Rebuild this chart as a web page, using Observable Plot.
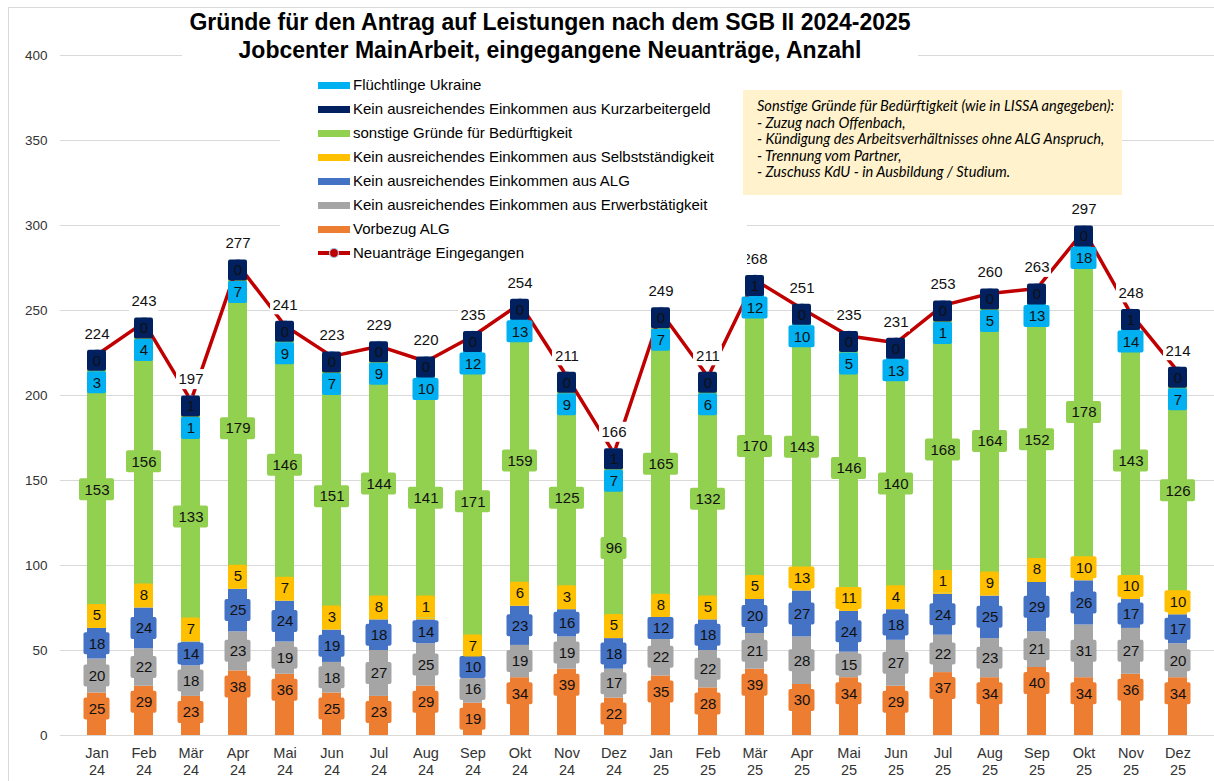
<!DOCTYPE html>
<html>
<head>
<meta charset="utf-8">
<script src="https://cdn.jsdelivr.net/npm/d3@7"></script>
<script src="https://cdn.jsdelivr.net/npm/@observablehq/plot@0.6"></script>
<style>
  html, body { margin: 0; padding: 0; background: #fff; }
  body { font-family: "Liberation Sans", Arial, sans-serif; }
  #wrap { position: relative; width: 1214px; height: 781px; overflow: hidden; background: #fff; }
  #frame { position: absolute; left: 8px; top: 7px; width: 1220px; height: 800px; border: 1px solid #d9d9d9; box-sizing: border-box; pointer-events: none; }
  #chart { position: absolute; left: 0; top: 0; }
  #title { position: absolute; left: 182px; top: 8px; width: 736px; height: 58px; background: #fff; text-align: center;
           font-weight: bold; font-size: 23px; line-height: 28px; color: #000; }
  #legend { position: absolute; left: 280px; top: 70px; width: 467px; height: 195px; background: #fff; }
  .lrow { position: absolute; left: 0; height: 24px; width: 467px; }
  .lsw { position: absolute; left: 38px; top: 9px; width: 32px; height: 7px; }
  .ltx { position: absolute; left: 73px; top: 0; line-height: 24px; font-size: 15px; color: #000; white-space: nowrap; }
  #note { position: absolute; left: 743px; top: 90px; width: 379px; height: 105px; background: #FFF2CC; box-sizing: border-box;
          padding: 8px 0 0 14px; font-family: Lato, "Liberation Sans", sans-serif; font-style: italic; font-size: 14.6px; line-height: 16.6px; color: #000; white-space: nowrap; }
</style>
</head>
<body>
<div id="wrap">
  <div id="chart"></div>
  <div id="title"></div>
  <div id="legend"></div>
  <div id="note"></div>
  <div id="frame"></div>
</div>
<script>
// ---------- Data ----------
const monthNames = ["Jan", "Feb", "Mär", "Apr", "Mai", "Jun", "Jul", "Aug", "Sep", "Okt", "Nov", "Dez"];
const yearLabels = ["24", "25"];
const categories = yearLabels.flatMap(y => monthNames.map(m => m + " " + y));

const seriesNames = [
  "Vorbezug ALG",
  "Kein ausreichendes Einkommen aus Erwerbstätigkeit",
  "Kein ausreichendes Einkommen aus ALG",
  "Kein ausreichendes Einkommen aus Selbstständigkeit",
  "sonstige Gründe für Bedürftigkeit",
  "Flüchtlinge Ukraine",
  "Kein ausreichendes Einkommen aus Kurzarbeitergeld"
];
const lineName = "Neuanträge Eingegangen";

const vorbezugALG        = [25, 29, 23, 38, 36, 25, 23, 29, 19, 34, 39, 22, 35, 28, 39, 30, 34, 29, 37, 34, 40, 34, 36, 34];
const erwerbstaetigkeit  = [20, 22, 18, 23, 19, 18, 27, 25, 16, 19, 19, 17, 22, 22, 21, 28, 15, 27, 22, 23, 21, 31, 27, 20];
const alg                = [18, 24, 14, 25, 24, 19, 18, 14, 10, 23, 16, 18, 12, 18, 20, 27, 24, 18, 24, 25, 29, 26, 17, 17];
const selbststaendigkeit = [5, 8, 7, 5, 7, 3, 8, 1, 7, 6, 3, 5, 8, 5, 5, 13, 11, 4, 1, 9, 8, 10, 10, 10];
const sonstigeGruende    = [153, 156, 133, 179, 146, 151, 144, 141, 171, 159, 125, 96, 165, 132, 170, 143, 146, 140, 168, 164, 152, 178, 143, 126];
const fluechtlingeUkraine = [3, 4, 1, 7, 9, 7, 9, 10, 12, 13, 9, 7, 7, 6, 12, 10, 5, 13, 1, 5, 13, 18, 14, 7];
const kurzarbeitergeld   = [0, 0, 1, 0, 0, 0, 0, 0, 0, 0, 0, 1, 0, 0, 1, 0, 0, 0, 0, 0, 0, 0, 1, 0];
const neuantraege        = [224, 243, 197, 277, 241, 223, 229, 220, 235, 254, 211, 166, 249, 211, 268, 251, 235, 231, 253, 260, 263, 297, 248, 214];

const yTicks = [0, 50, 100, 150, 200, 250, 300, 350, 400];

const titleLines = [
  "Gründe für den Antrag auf Leistungen nach dem SGB II 2024-2025",
  "Jobcenter MainArbeit, eingegangene Neuanträge, Anzahl"
];
const noteLines = [
  "Sonstige Gründe für Bedürftigkeit (wie in LISSA angegeben):",
  "- Zuzug nach Offenbach,",
  "- Kündigung des Arbeitsverhältnisses ohne ALG Anspruch,",
  "- Trennung vom Partner,",
  "- Zuschuss KdU - in Ausbildung / Studium."
];

// ---------- Styles ----------
const seriesColors = ["#ED7D31", "#A5A5A5", "#4472C4", "#FFC000", "#92D050", "#00B0F0", "#002060"];
const lineColor = "#C00000";
const legendOrder = [5, 6, 4, 3, 2, 1, 0];
// label anchoring per series: "top" (inside end), "mid", "base" (inside base), "total" (near the stack top)
const labelAnchor = ["top", "mid", "mid", "base", "mid", "total", "total"];
const labelDy = [16, 0, 0, -13, 0, 28, 6];
const boxInset = {1: 0, 2: -3.5, 3: -8};

// ---------- Build table ----------
const seriesValues = [vorbezugALG, erwerbstaetigkeit, alg, selbststaendigkeit, sonstigeGruende, fluechtlingeUkraine, kurzarbeitergeld];
const rows = [];
categories.forEach((m, j) => {
  let base = 0;
  seriesValues.forEach((vals, i) => {
    const v = vals[j];
    rows.push({month: m, series: seriesNames[i], si: i, value: v, base, top: base + v, total: neuantraege[j]});
    base += v;
  });
});
const totals = categories.map((m, j) => ({month: m, total: neuantraege[j]}));

function labelY(r) {
  const a = labelAnchor[r.si];
  if (a === "top") return r.top;
  if (a === "base") return r.base;
  if (a === "total") return r.total;
  return (r.base + r.top) / 2;
}

const marks = [
  Plot.ruleY(yTicks, {stroke: "#d9d9d9", strokeWidth: 1}),
  Plot.barY(rows, {x: "month", y1: "base", y2: "top", fill: "series"}),
  Plot.line(totals, {x: "month", y: "total", stroke: lineColor, strokeWidth: 3.5}),
  Plot.dot(totals, {x: "month", y: "total", r: 5, fill: lineColor, stroke: "#9DC3E6", strokeWidth: 1})
];

seriesNames.forEach((name, i) => {
  const sub = rows.filter(r => r.si === i).map(r => ({...r, ly: labelY(r)}));
  [1, 2, 3].forEach(d => {
    const part = sub.filter(r => String(r.value).length === d);
    if (!part.length) return;
    const w = boxInset[d];
    const h = i === 6 ? -10.5 : -11;
    marks.push(Plot.barY(part, {
      x: "month", y1: "ly", y2: "ly", fill: seriesColors[i],
      insetTop: h, insetBottom: h, insetLeft: w, insetRight: w, dy: labelDy[i], rx: 2
    }));
  });
  marks.push(Plot.text(sub, {x: "month", y: "ly", text: r => String(r.value), dy: labelDy[i], fontSize: 15, fill: "#111"}));
});

marks.push(Plot.barY(totals, {x: "month", y1: "total", y2: "total", fill: "white", insetTop: -10, insetBottom: -10, insetLeft: -5, insetRight: -5, dy: -21}));
marks.push(Plot.text(totals, {x: "month", y: "total", text: r => String(r.total), dy: -21, fontSize: 15, fill: "#111"}));

marks.push(Plot.axisX({tickSize: 0, tickPadding: 10, label: null, tickFormat: d => d.replace(" ", "\n"), fontSize: 14.5, lineHeight: 1.18, color: "#333"}));
marks.push(Plot.axisY({ticks: yTicks, tickSize: 0, tickPadding: 13, label: null, fontSize: 13.5, color: "#333"}));

const chart = Plot.plot({
  width: 1214,
  height: 781,
  marginLeft: 60,
  marginRight: 0,
  marginTop: 55,
  marginBottom: 46,
  x: {type: "band", domain: categories, paddingInner: 0.6, paddingOuter: 0.38, label: null},
  y: {domain: [0, 400], label: null},
  color: {domain: seriesNames, range: seriesColors},
  style: {fontFamily: "'Liberation Sans', Arial, sans-serif", background: "transparent", overflow: "visible"},
  marks
});
document.getElementById("chart").appendChild(chart);

// ---------- Title ----------
document.getElementById("title").innerHTML = titleLines.map(t => `<div>${t}</div>`).join("");

// ---------- Legend ----------
const legend = document.getElementById("legend");
legendOrder.forEach((i, k) => {
  const row = document.createElement("div");
  row.className = "lrow";
  row.style.top = (3 + k * 24) + "px";
  row.innerHTML = `<div class="lsw" style="background:${seriesColors[i]}"></div><div class="ltx">${seriesNames[i]}</div>`;
  legend.appendChild(row);
});
{
  const row = document.createElement("div");
  row.className = "lrow";
  row.style.top = (3 + 7 * 24) + "px";
  row.innerHTML = `<svg style="position:absolute;left:38px;top:4px" width="34" height="16">
      <line x1="0" y1="8" x2="32" y2="8" stroke="${lineColor}" stroke-width="4"/>
      <circle cx="16" cy="8" r="4.5" fill="${lineColor}" stroke="#9DC3E6" stroke-width="1.2"/></svg>
    <div class="ltx">${lineName}</div>`;
  legend.appendChild(row);
}

// ---------- Note ----------
document.getElementById("note").innerHTML = noteLines.map(t => `<div>${t}</div>`).join("");
</script>
</body>
</html>
